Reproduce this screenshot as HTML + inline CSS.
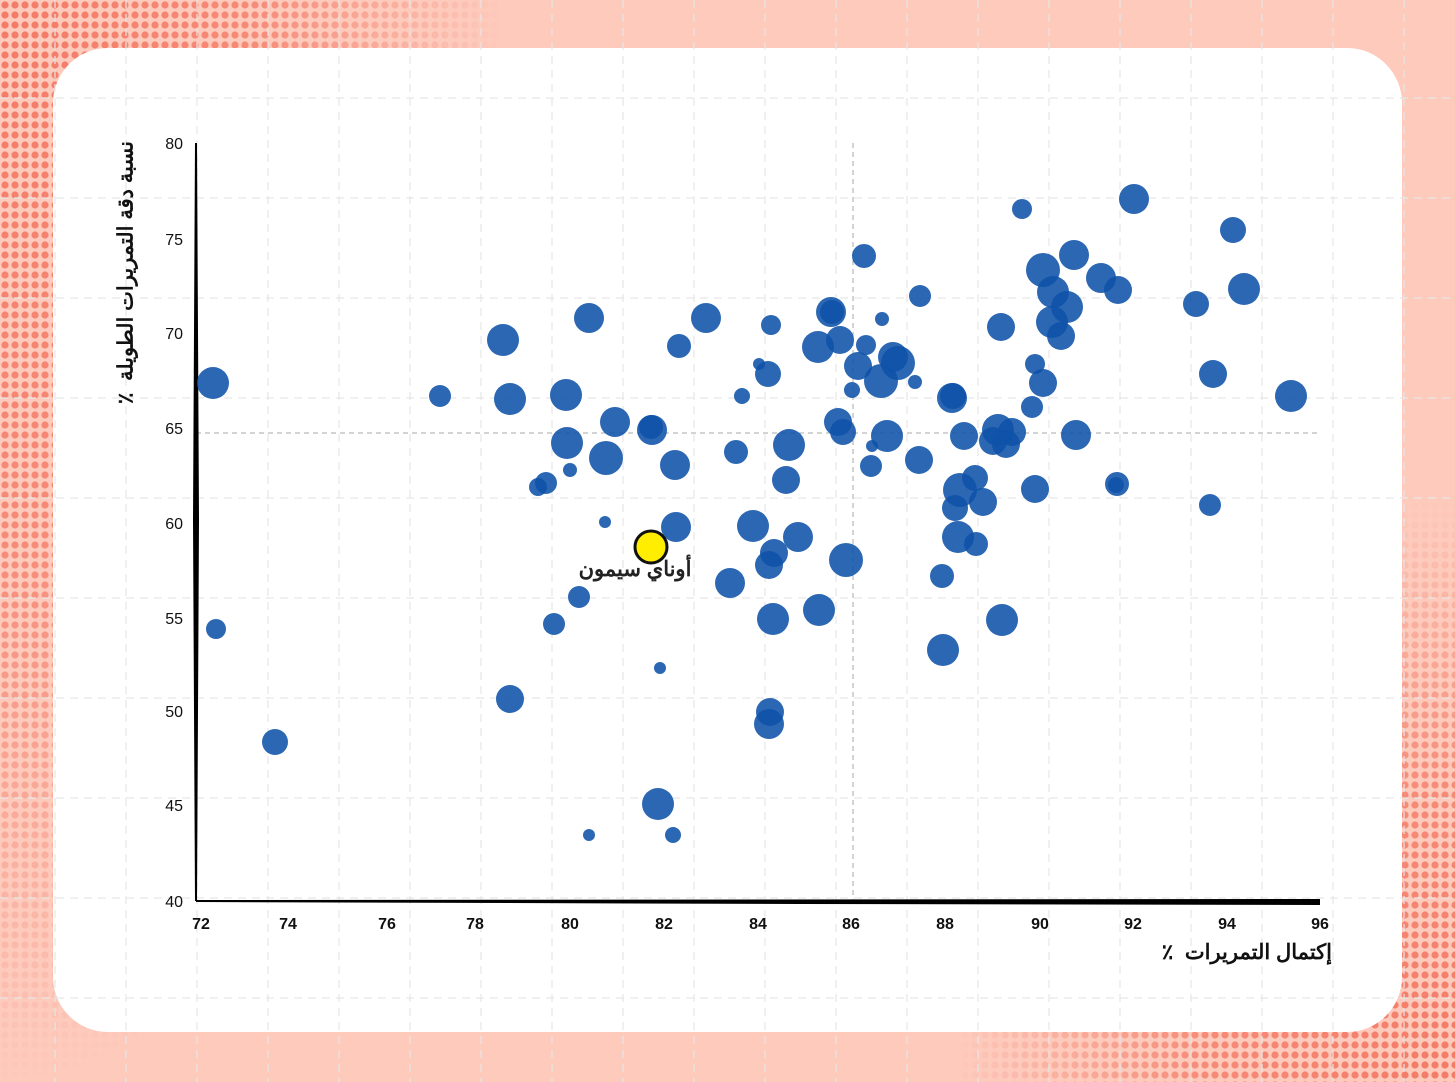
<!DOCTYPE html>
<html><head><meta charset="utf-8"><style>
html,body{margin:0;padding:0;}
body{width:1455px;height:1082px;overflow:hidden;background:#fdcabc;font-family:"Liberation Sans","Noto Sans CJK SC",sans-serif;position:relative;}
.t{position:absolute;font-weight:bold;color:#111;direction:rtl;white-space:nowrap;font-family:"Liberation Sans","Noto Sans CJK SC",sans-serif;}
</style></head><body>
<svg width="1455" height="1082" xmlns="http://www.w3.org/2000/svg" style="position:absolute;left:0;top:0">
<defs>
<pattern id="dots" width="10" height="10" patternUnits="userSpaceOnUse"><circle cx="5" cy="5" r="3.6" fill="#f47a66"/></pattern>
<radialGradient id="g1" cx="0" cy="0" r="1" gradientUnits="objectBoundingBox"><stop offset="0" stop-color="#fff" stop-opacity="1"/><stop offset="0.5" stop-color="#fff" stop-opacity="0.8"/><stop offset="1" stop-color="#fff" stop-opacity="0"/></radialGradient>
<mask id="m1"><rect x="0" y="0" width="500" height="1082" fill="url(#g1)"/></mask>
<radialGradient id="g2" cx="1" cy="1" r="1" gradientUnits="objectBoundingBox"><stop offset="0" stop-color="#fff" stop-opacity="1"/><stop offset="0.5" stop-color="#fff" stop-opacity="0.8"/><stop offset="1" stop-color="#fff" stop-opacity="0"/></radialGradient>
<mask id="m2"><rect x="955" y="500" width="500" height="582" fill="url(#g2)"/></mask>
</defs>
<rect width="1455" height="1082" fill="#fdcabc"/>
<rect x="0" y="0" width="500" height="1082" fill="url(#dots)" mask="url(#m1)"/>
<rect x="955" y="500" width="500" height="582" fill="url(#dots)" mask="url(#m2)"/>
<rect x="53" y="48" width="1349" height="984" rx="55" fill="#fff"/>
<g stroke="#e6e6e6" stroke-width="1.2" stroke-dasharray="8,6">
<line x1="55" y1="0" x2="55" y2="1082"/><line x1="126" y1="0" x2="126" y2="1082"/><line x1="197" y1="0" x2="197" y2="1082"/><line x1="268" y1="0" x2="268" y2="1082"/><line x1="339" y1="0" x2="339" y2="1082"/><line x1="410" y1="0" x2="410" y2="1082"/><line x1="481" y1="0" x2="481" y2="1082"/><line x1="552" y1="0" x2="552" y2="1082"/><line x1="623" y1="0" x2="623" y2="1082"/><line x1="694" y1="0" x2="694" y2="1082"/><line x1="765" y1="0" x2="765" y2="1082"/><line x1="836" y1="0" x2="836" y2="1082"/><line x1="907" y1="0" x2="907" y2="1082"/><line x1="978" y1="0" x2="978" y2="1082"/><line x1="1049" y1="0" x2="1049" y2="1082"/><line x1="1120" y1="0" x2="1120" y2="1082"/><line x1="1191" y1="0" x2="1191" y2="1082"/><line x1="1262" y1="0" x2="1262" y2="1082"/><line x1="1333" y1="0" x2="1333" y2="1082"/><line x1="1404" y1="0" x2="1404" y2="1082"/>
<line x1="0" y1="98" x2="1455" y2="98"/><line x1="0" y1="198" x2="1455" y2="198"/><line x1="0" y1="298" x2="1455" y2="298"/><line x1="0" y1="398" x2="1455" y2="398"/><line x1="0" y1="498" x2="1455" y2="498"/><line x1="0" y1="598" x2="1455" y2="598"/><line x1="0" y1="698" x2="1455" y2="698"/><line x1="0" y1="798" x2="1455" y2="798"/><line x1="0" y1="898" x2="1455" y2="898"/><line x1="0" y1="998" x2="1455" y2="998"/>
</g>
<g stroke="#aaa" stroke-width="1" stroke-dasharray="5,4">
<line x1="853" y1="143" x2="853" y2="901"/>
<line x1="196" y1="433" x2="1320" y2="433"/>
</g>
<g fill="#000">
<polygon points="195,143 197,143 199,520 197,901 195,901 193,520"/>
<polygon points="196,900 1320,899 1320,905 800,904 196,902"/>
</g>
<g fill="#0f52a8" fill-opacity="0.88">
<circle cx="213" cy="383" r="16"/><circle cx="216" cy="629" r="10"/><circle cx="275" cy="742" r="13"/><circle cx="440" cy="396" r="11"/><circle cx="503" cy="340" r="16"/><circle cx="510" cy="399" r="16"/><circle cx="510" cy="699" r="14"/><circle cx="589" cy="318" r="15"/><circle cx="566" cy="395" r="16"/><circle cx="567" cy="443" r="16"/><circle cx="546" cy="483" r="11"/><circle cx="538" cy="487" r="9"/><circle cx="570" cy="470" r="7"/><circle cx="606" cy="458" r="17"/><circle cx="615" cy="422" r="15"/><circle cx="652" cy="430" r="15"/><circle cx="651" cy="427" r="12"/><circle cx="605" cy="522" r="6"/><circle cx="675" cy="465" r="15"/><circle cx="676" cy="527" r="15"/><circle cx="679" cy="346" r="12"/><circle cx="706" cy="318" r="15"/><circle cx="660" cy="668" r="6"/><circle cx="658" cy="804" r="16"/><circle cx="673" cy="835" r="8"/><circle cx="589" cy="835" r="6"/><circle cx="579" cy="597" r="11"/><circle cx="554" cy="624" r="11"/><circle cx="730" cy="583" r="15"/><circle cx="736" cy="452" r="12"/><circle cx="742" cy="396" r="8"/><circle cx="759" cy="364" r="6"/><circle cx="768" cy="374" r="13"/><circle cx="771" cy="325" r="10"/><circle cx="753" cy="526" r="16"/><circle cx="774" cy="553" r="14"/><circle cx="769" cy="565" r="14"/><circle cx="798" cy="537" r="15"/><circle cx="789" cy="445" r="16"/><circle cx="786" cy="480" r="14"/><circle cx="773" cy="619" r="16"/><circle cx="770" cy="712" r="14"/><circle cx="769" cy="724" r="15"/><circle cx="819" cy="610" r="16"/><circle cx="818" cy="347" r="16"/><circle cx="831" cy="312" r="15"/><circle cx="832" cy="312" r="12"/><circle cx="840" cy="340" r="14"/><circle cx="838" cy="422" r="14"/><circle cx="843" cy="432" r="13"/><circle cx="846" cy="560" r="17"/><circle cx="864" cy="256" r="12"/><circle cx="866" cy="345" r="10"/><circle cx="858" cy="366" r="14"/><circle cx="852" cy="390" r="8"/><circle cx="882" cy="319" r="7"/><circle cx="872" cy="446" r="6"/><circle cx="871" cy="466" r="11"/><circle cx="881" cy="381" r="17"/><circle cx="887" cy="436" r="16"/><circle cx="893" cy="357" r="15"/><circle cx="898" cy="363" r="17"/><circle cx="915" cy="382" r="7"/><circle cx="920" cy="296" r="11"/><circle cx="919" cy="460" r="14"/><circle cx="942" cy="576" r="12"/><circle cx="943" cy="650" r="16"/><circle cx="952" cy="398" r="15"/><circle cx="953" cy="396" r="13"/><circle cx="964" cy="436" r="14"/><circle cx="960" cy="490" r="17"/><circle cx="955" cy="508" r="13"/><circle cx="958" cy="537" r="16"/><circle cx="975" cy="478" r="13"/><circle cx="976" cy="544" r="12"/><circle cx="983" cy="502" r="14"/><circle cx="993" cy="441" r="14"/><circle cx="1001" cy="327" r="14"/><circle cx="998" cy="430" r="16"/><circle cx="1006" cy="444" r="14"/><circle cx="1012" cy="432" r="14"/><circle cx="1002" cy="620" r="16"/><circle cx="1022" cy="209" r="10"/><circle cx="1032" cy="407" r="11"/><circle cx="1035" cy="364" r="10"/><circle cx="1043" cy="383" r="14"/><circle cx="1035" cy="489" r="14"/><circle cx="1043" cy="270" r="17"/><circle cx="1053" cy="292" r="16"/><circle cx="1052" cy="322" r="16"/><circle cx="1067" cy="307" r="16"/><circle cx="1061" cy="336" r="14"/><circle cx="1074" cy="255" r="15"/><circle cx="1076" cy="435" r="15"/><circle cx="1101" cy="278" r="15"/><circle cx="1118" cy="290" r="14"/><circle cx="1117" cy="484" r="12"/><circle cx="1116" cy="485" r="8"/><circle cx="1134" cy="199" r="15"/><circle cx="1196" cy="304" r="13"/><circle cx="1210" cy="505" r="11"/><circle cx="1213" cy="374" r="14"/><circle cx="1233" cy="230" r="13"/><circle cx="1244" cy="289" r="16"/><circle cx="1291" cy="396" r="16"/>
</g>
<circle cx="651" cy="547" r="16" fill="#ffee00" stroke="#111" stroke-width="3"/>
<g font-size="16" fill="#111" font-family="'Liberation Sans',sans-serif" text-anchor="end">
<text x="183" y="149">80</text><text x="183" y="245">75</text><text x="183" y="339">70</text><text x="183" y="434">65</text><text x="183" y="529">60</text><text x="183" y="624">55</text><text x="183" y="717">50</text><text x="183" y="811">45</text><text x="183" y="907">40</text>
</g>
<g font-size="16" fill="#111" font-weight="bold" font-family="'Liberation Sans',sans-serif" text-anchor="middle">
<text x="201" y="929">72</text><text x="288" y="929">74</text><text x="387" y="929">76</text><text x="475" y="929">78</text><text x="570" y="929">80</text><text x="664" y="929">82</text><text x="758" y="929">84</text><text x="851" y="929">86</text><text x="945" y="929">88</text><text x="1040" y="929">90</text><text x="1133" y="929">92</text><text x="1227" y="929">94</text><text x="1320" y="929">96</text>
</g>
</svg>
<div class="t" style="left:535px;top:557px;width:200px;text-align:center;font-size:21px;color:#222;">أوناي سيمون</div>
<div class="t" style="right:123px;top:940px;font-size:21px;">إكتمال التمريرات&nbsp;&nbsp;٪</div>
<div class="t" style="left:-24px;top:260px;width:300px;text-align:center;font-size:21px;transform:rotate(-90deg);">نسبة دقة التمريرات الطويلة&nbsp;&nbsp;٪</div>
</body></html>
